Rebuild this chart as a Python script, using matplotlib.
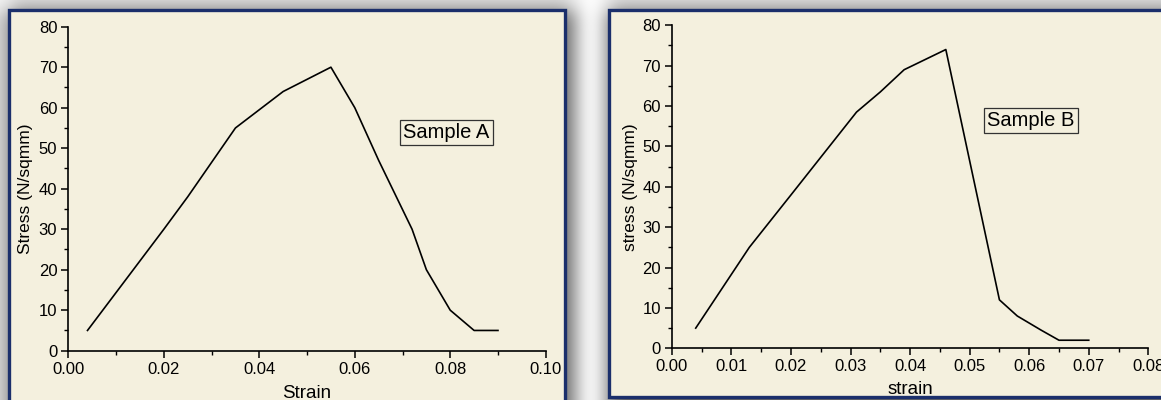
import numpy as np
import matplotlib
matplotlib.use("Agg")
import matplotlib.pyplot as plt
from matplotlib.patches import Rectangle
from matplotlib.ticker import MultipleLocator

plt.rcParams['font.family'] = ['Liberation Sans', 'DejaVu Sans']

# ---- data ----
strain_a = [0.004, 0.020, 0.025, 0.035, 0.040, 0.045, 0.050, 0.055, 0.060, 0.065, 0.072, 0.075, 0.080, 0.085, 0.090]
stress_a = [5, 30, 38, 55, 59.5, 64, 67, 70, 60, 47, 30, 20, 10, 5, 5]

strain_b = [0.004, 0.013, 0.020, 0.031, 0.035, 0.039, 0.046, 0.055, 0.058, 0.062, 0.065, 0.070]
stress_b = [5, 25, 38, 58.5, 63.5, 69, 74, 12, 8, 4.5, 2, 2]

label_a = "Sample A"
label_b = "Sample B"
xlabel_a = "Strain"
xlabel_b = "strain"
ylabel_a = "Stress (N/sqmm)"
ylabel_b = "stress (N/sqmm)"

W, H = 1161, 400
fig = plt.figure(figsize=(W / 100, H / 100), dpi=100)
fig.patch.set_facecolor("white")

# ---- background: shadows and panel frames ----
bg = fig.add_axes([0, 0, 1, 1], zorder=-10)
bg.set_xlim(0, W)
bg.set_ylim(H, 0)
bg.axis("off")

panels = [(9, 10, 565, 420), (609, 10, 1175, 397)]

# soft shadow via box-blurred mask
mask = np.zeros((H, W))
for (x0, y0, x1, y1) in panels:
    mask[max(y0 - 2, 0):min(y1 + 6, H), max(x0 - 2, 0):min(x1 + 10, W)] = 1.0
k = 9
for _ in range(3):
    pad = np.pad(mask, k, mode="edge")
    c = np.cumsum(pad, axis=1)
    c = np.concatenate([np.zeros((c.shape[0], 1)), c], axis=1)
    pad = (c[:, 2 * k + 1:] - c[:, :-2 * k - 1]) / (2 * k + 1)
    c = np.cumsum(pad, axis=0)
    c = np.concatenate([np.zeros((1, c.shape[1])), c], axis=0)
    mask = (c[2 * k + 1:, :] - c[:-2 * k - 1, :]) / (2 * k + 1)
shade = 1.0 - 0.6 * mask
rgb = np.dstack([shade, shade, shade])
bg.imshow(rgb, extent=(0, W, H, 0), aspect="auto", zorder=0, interpolation="bilinear")

for (x0, y0, x1, y1) in panels:
    bg.add_patch(Rectangle((x0, y0), x1 - x0, y1 - y0, facecolor="#F4F0DE",
                           edgecolor="#1B2F6B", linewidth=2.4, zorder=2))


def style_axes(ax, xmax, xmajor, xminor, xlabel, ylabel, xlabelpad, ylabelpad):
    ax.set_facecolor("none")
    ax.set_xlim(0, xmax)
    ax.set_ylim(0, 80)
    for s in ["top", "right"]:
        ax.spines[s].set_visible(False)
    for s in ["left", "bottom"]:
        ax.spines[s].set_linewidth(1.2)
        ax.spines[s].set_color("black")
    ax.xaxis.set_major_locator(MultipleLocator(xmajor))
    ax.xaxis.set_minor_locator(MultipleLocator(xminor))
    ax.yaxis.set_major_locator(MultipleLocator(10))
    ax.yaxis.set_minor_locator(MultipleLocator(5))
    ax.tick_params(which="major", direction="out", length=5, width=1.1, labelsize=12,
                   colors="black", pad=3)
    ax.tick_params(which="minor", direction="out", length=3, width=1.0)
    ax.set_xlabel(xlabel, fontsize=13.5, labelpad=xlabelpad)
    ax.set_ylabel(ylabel, fontsize=12.5, labelpad=ylabelpad)


ax1 = fig.add_axes([68.4 / W, (H - 350.7) / H, 477.3 / W, 324 / H])
ax1.plot(strain_a, stress_a, color="black", linewidth=1.2, clip_on=False)
style_axes(ax1, 0.10, 0.02, 0.01, xlabel_a, ylabel_a, 6, 4)
ax1.xaxis.set_major_formatter(plt.FuncFormatter(lambda v, p: f"{v:.2f}"))
ax1.text(0.792, 0.674, label_a, transform=ax1.transAxes, ha="center", va="center",
         fontsize=14.5, bbox=dict(boxstyle="square,pad=0.15", facecolor="none",
                                  edgecolor="#333333", linewidth=0.9))

ax2 = fig.add_axes([671.9 / W, (H - 348.3) / H, 476.4 / W, 323 / H])
ax2.plot(strain_b, stress_b, color="black", linewidth=1.2, clip_on=False)
style_axes(ax2, 0.08, 0.01, 0.005, xlabel_b, ylabel_b, 5, 3)
ax2.xaxis.set_major_formatter(plt.FuncFormatter(lambda v, p: f"{v:.2f}"))
ax2.text(0.754, 0.706, label_b, transform=ax2.transAxes, ha="center", va="center",
         fontsize=14.5, bbox=dict(boxstyle="square,pad=0.15", facecolor="none",
                                  edgecolor="#333333", linewidth=0.9))

fig.savefig("out.png", dpi=100, facecolor=fig.get_facecolor())
